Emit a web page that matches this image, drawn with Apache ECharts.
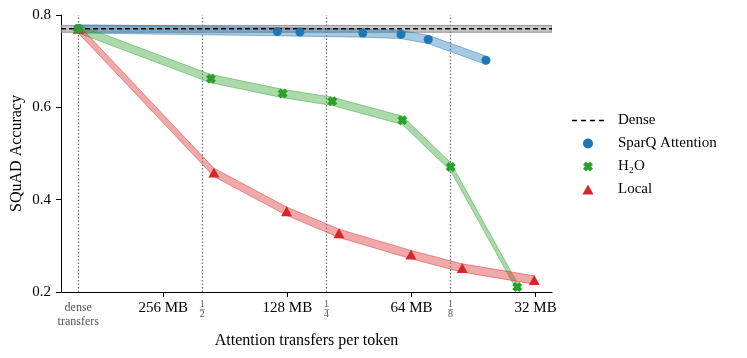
<!DOCTYPE html>
<html>
<head>
<meta charset="utf-8">
<script src="https://cdn.jsdelivr.net/npm/echarts@6/dist/echarts.min.js"></script>
<style>
  html, body { margin: 0; padding: 0; background: #fff; }
  #chart { width: 747px; height: 358px; }
</style>
</head>
<body>
<div id="chart"></div>
<script>
'use strict';

// x is log2 of the transfer reduction (0 = dense, 1 = 1/2, 2 = 1/4, 3 = 1/8)
var fracTicks = [0, 1, 2, 3];
var fracLabels = ['dense', '2', '4', '8'];
var mbTicks = [0.685, 1.685, 2.685, 3.685];
var mbLabels = ['256 MB', '128 MB', '64 MB', '32 MB'];
var xRange = [-0.139, 3.817];

var denseAcc = 0.770;
var denseErr = 0.0073;

var sparqX = [0, 1.604, 1.786, 2.292, 2.600, 2.820, 3.285];
var sparqY = [0.770, 0.764, 0.763, 0.761, 0.758, 0.747, 0.702];
var sparqErr = [0.009, 0.009, 0.009, 0.009, 0.009, 0.009, 0.009];

var h2oX = [0, 1.069, 1.647, 2.047, 2.611, 3.001, 3.537];
var h2oY = [0.770, 0.662, 0.630, 0.613, 0.572, 0.471, 0.211];
var h2oErr = [0.009, 0.009, 0.009, 0.009, 0.009, 0.009, 0.009];

var localX = [0, 1.093, 1.679, 2.101, 2.681, 3.094, 3.674];
var localY = [0.770, 0.459, 0.375, 0.327, 0.281, 0.252, 0.226];
var localErr = [0.009, 0.009, 0.009, 0.009, 0.009, 0.009, 0.009];

var FONT = 'Liberation Serif';
var xPath = 'path://M0,3L3,0L5,2L7,0L10,3L8,5L10,7L7,10L5,8L3,10L0,7L2,5Z';
var triPath = 'path://M5,0L10,9L0,9Z';
var dashPath = 'path://M0,4.2h5v1.6h-5zM9,4.2h5v1.6h-5zM18,4.2h5v1.6h-5zM27,4.2h5v1.6h-5z';

function pairs(xs, ys) {
    return xs.map(function (x, i) { return [x, ys[i]]; });
}

// shaded +/- band drawn as one polygon through the axis scales
function bandSeries(xs, ys, err, fill, edge) {
    return {
        type: 'custom',
        silent: true,
        clip: true,
        z: 1,
        data: pairs(xs, ys),
        renderItem: function (params, api) {
            if (params.dataIndex !== 0) return null;
            var pts = [];
            for (var i = 0; i < xs.length; i++) pts.push(api.coord([xs[i], ys[i] + err[i]]));
            for (var j = xs.length - 1; j >= 0; j--) pts.push(api.coord([xs[j], ys[j] - err[j]]));
            return {
                type: 'polygon',
                shape: { points: pts },
                style: { fill: fill, stroke: edge, lineWidth: 1 }
            };
        }
    };
}

function findIdx(arr, v) {
    for (var i = 0; i < arr.length; i++) if (Math.abs(arr[i] - v) < 1e-6) return i;
    return -1;
}

var chart = echarts.init(document.getElementById('chart'));

chart.setOption({
    animation: false,
    textStyle: { fontFamily: FONT },
    grid: { left: 61, right: 195, top: 15, bottom: 66, outerBoundsMode: 'none' },
    legend: {
        orient: 'vertical',
        left: 567,
        top: 108,
        itemWidth: 32,
        itemHeight: 10,
        itemGap: 8,
        textStyle: { fontFamily: FONT, fontSize: 15, color: '#000', padding: [0, 0, 0, 9] },
        data: [
            { name: 'Dense', icon: dashPath, itemStyle: { color: '#000' } },
            { name: 'SparQ Attention', icon: 'circle' },
            { name: 'H₂O', icon: xPath },
            { name: 'Local', icon: triPath }
        ]
    },
    xAxis: {
        type: 'value',
        min: xRange[0],
        max: xRange[1],
        name: 'Attention transfers per token',
        nameLocation: 'middle',
        nameGap: 38,
        nameTextStyle: { fontFamily: FONT, fontSize: 16, color: '#000' },
        axisLine: { onZero: false, lineStyle: { color: '#000', width: 1 } },
        axisTick: { customValues: mbTicks, length: 5, lineStyle: { color: '#000' } },
        splitLine: { show: false },
        axisLabel: {
            customValues: fracTicks.concat(mbTicks),
            margin: 9,
            fontFamily: FONT,
            fontSize: 15,
            color: '#000',
            formatter: function (v) {
                var m = findIdx(mbTicks, v);
                if (m >= 0) return mbLabels[m];
                var f = findIdx(fracTicks, v);
                if (f === 0) return '{g|dense}\n{g|transfers}';
                if (f > 0) return '{n|1}\n{b|–}\n{n|' + fracLabels[f] + '}';
                return '';
            },
            rich: {
                g: { fontFamily: FONT, fontSize: 12, color: '#555', lineHeight: 14 },
                n: { fontFamily: FONT, fontSize: 10, color: '#555', lineHeight: 6 },
                b: { fontFamily: FONT, fontSize: 10, color: '#555', lineHeight: 4 }
            }
        }
    },
    yAxis: {
        type: 'value',
        min: 0.2,
        max: 0.8,
        interval: 0.2,
        name: 'SQuAD Accuracy',
        nameLocation: 'middle',
        nameGap: 36,
        nameMoveOverlap: false,
        nameTextStyle: { fontFamily: FONT, fontSize: 16, color: '#000' },
        axisLine: { show: true, onZero: false, lineStyle: { color: '#000', width: 1 } },
        axisTick: { show: true, length: 5, lineStyle: { color: '#000' } },
        splitLine: { show: false },
        axisLabel: {
            margin: 10,
            fontFamily: FONT,
            fontSize: 15,
            color: '#000',
            formatter: function (v) { return v.toFixed(1); }
        }
    },
    series: [
        bandSeries(xRange, [denseAcc, denseAcc], [denseErr, denseErr], 'rgba(150,150,150,0.55)', 'rgba(120,120,120,0.7)'),
        bandSeries(sparqX, sparqY, sparqErr, 'rgba(31,119,180,0.4)', 'rgba(31,119,180,0.45)'),
        bandSeries(h2oX, h2oY, h2oErr, 'rgba(44,160,44,0.4)', 'rgba(44,160,44,0.45)'),
        bandSeries(localX, localY, localErr, 'rgba(214,39,40,0.4)', 'rgba(214,39,40,0.45)'),
        {
            name: 'Dense',
            type: 'line',
            symbol: 'none',
            z: 2,
            data: [[xRange[0], denseAcc], [xRange[1], denseAcc]],
            lineStyle: { color: '#000', width: 1.5, type: [5, 3] },
            itemStyle: { color: '#000' },
            markLine: {
                silent: true,
                symbol: 'none',
                label: { show: false },
                lineStyle: { color: '#777', width: 1.3, type: [1.5, 2] },
                data: fracTicks.map(function (t) { return { xAxis: t }; })
            }
        },
        {
            name: 'SparQ Attention',
            type: 'scatter',
            symbol: 'circle',
            symbolSize: 9,
            z: 3,
            itemStyle: { color: '#1f77b4', opacity: 1 },
            data: pairs(sparqX, sparqY)
        },
        {
            name: 'Local',
            type: 'scatter',
            symbol: triPath,
            symbolSize: [11, 10],
            z: 4,
            itemStyle: { color: '#d62728', opacity: 1 },
            data: pairs(localX, localY)
        },
        {
            name: 'H₂O',
            type: 'scatter',
            symbol: xPath,
            symbolSize: 10,
            z: 5,
            itemStyle: { color: '#2ca02c', opacity: 1 },
            data: pairs(h2oX, h2oY)
        }
    ]
});
</script>
</body>
</html>
